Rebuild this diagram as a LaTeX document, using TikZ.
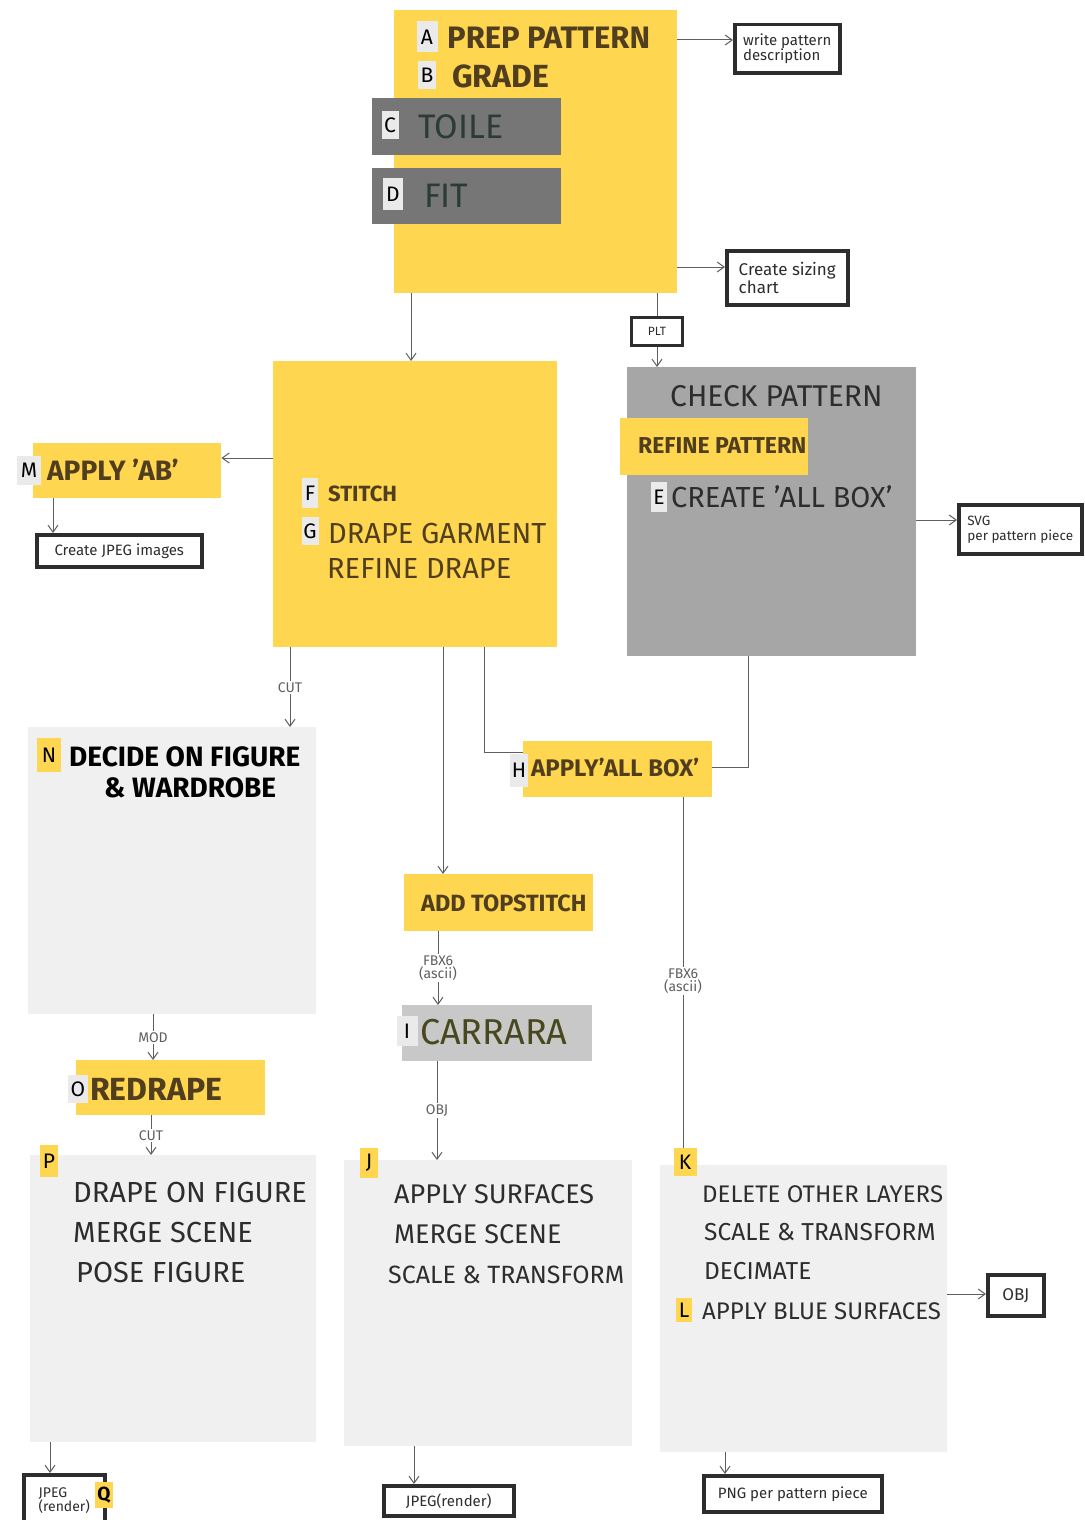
\documentclass[tikz,border=0pt]{standalone}
\usepackage{fontspec}
\setmainfont{Fira Sans}
\usetikzlibrary{arrows.meta}
\definecolor{noteyellow}{RGB}{255,214,79}
\definecolor{bargray}{RGB}{118,118,118}
\definecolor{checkgray}{RGB}{166,166,166}
\definecolor{softgray}{RGB}{200,200,200}
\definecolor{palegray}{RGB}{240,240,240}
\definecolor{taggray}{RGB}{234,234,234}
\definecolor{inkbrown}{RGB}{80,62,30}
\definecolor{inkolive}{RGB}{44,60,52}
\definecolor{inkcarrara}{RGB}{72,72,30}
\definecolor{inkdark}{RGB}{45,45,45}
\definecolor{linegray}{RGB}{95,95,95}
\begin{document}
\begin{tikzpicture}[yscale=-1
,panel/.style={anchor=north west,inner sep=0pt}
,outbox/.style={draw=inkdark,line width=3.5pt,anchor=north west,inner sep=4pt,align=left,text=inkdark,font=\fontsize{15}{15}\selectfont}
,tag/.style={inner sep=0pt,minimum width=18pt,minimum height=28pt,text=black,font=\fontsize{21}{21}\selectfont}
,head/.style={anchor=west,inner sep=0pt,text=inkbrown,font=\fontsize{#1}{#1}\selectfont\bfseries}
,body/.style={anchor=west,inner sep=0pt,text=inkdark,font=\fontsize{#1}{#1}\selectfont}
,conn/.style={draw=linegray,line width=1pt}
,arr/.style={conn,-{Straight Barb[length=7pt,width=10pt]}}
,lbl/.style={fill=white,inner sep=1.5pt,align=center,text=linegray,font=\fontsize{14}{13}\selectfont}
]
\fill[white] (0pt,0pt) rectangle (1084pt,1520pt);
\useasboundingbox (0pt,0pt) rectangle (1084pt,1520pt);
% boxes
\node[panel,fill=noteyellow,minimum width=283pt,minimum height=283pt] (prep) at (394pt,10pt) {};
\node[panel,fill=bargray,minimum width=189pt,minimum height=57pt] (toile) at (372pt,98pt) {};
\node[panel,fill=bargray,minimum width=189pt,minimum height=56pt] (fit) at (372pt,168pt) {};
\node[outbox,minimum width=105pt,minimum height=48pt,inner sep=3pt] (descr) at (733pt,23pt) {write pattern\\description};
\node[outbox,minimum width=121pt,minimum height=54pt,font=\fontsize{17}{18}\selectfont] (sizing) at (725pt,249pt) {Create sizing\\chart};
\node[outbox,line width=3pt,minimum width=51pt,minimum height=28pt,font=\fontsize{12}{12}\selectfont] (plt) at (630pt,316pt) {PLT};
\node[panel,fill=noteyellow,minimum width=284pt,minimum height=286pt] (stitch) at (273pt,361pt) {};
\node[panel,fill=checkgray,minimum width=289pt,minimum height=289pt] (check) at (627pt,367pt) {};
\node[panel,fill=noteyellow,minimum width=188pt,minimum height=57pt] (refinept) at (620pt,418pt) {};
\node[outbox,minimum width=123pt,minimum height=49pt,inner sep=3pt,font=\fontsize{13.5}{15}\selectfont] (svg) at (957pt,503pt) {SVG\\per pattern piece};
\node[panel,fill=noteyellow,minimum width=188pt,minimum height=55pt] (applyab) at (33pt,443pt) {};
\node[outbox,minimum width=165pt,minimum height=32pt] (jpegimg) at (35pt,533pt) {Create JPEG images};
\node[panel,fill=palegray,minimum width=288pt,minimum height=287pt] (decide) at (28pt,727pt) {};
\node[panel,fill=noteyellow,minimum width=189pt,minimum height=55pt] (redrape) at (76pt,1060pt) {};
\node[panel,fill=palegray,minimum width=286pt,minimum height=287pt] (drapefig) at (30pt,1155pt) {};
\node[outbox,minimum width=81pt,minimum height=52pt,inner sep=2pt,font=\fontsize{14}{14}\selectfont] (jpegq) at (22pt,1473pt) {JPEG\\(render)};
\node[panel,fill=noteyellow,minimum width=189pt,minimum height=57pt] (topstitch) at (404pt,874pt) {};
\node[panel,fill=softgray,minimum width=190pt,minimum height=56pt] (carrara) at (402pt,1005pt) {};
\node[panel,fill=palegray,minimum width=288pt,minimum height=286pt] (surfaces) at (344pt,1160pt) {};
\node[outbox,minimum width=130pt,minimum height=30pt,inner sep=2pt] (jpegrender) at (382pt,1484pt) {JPEG(render)};
\node[panel,fill=noteyellow,minimum width=189pt,minimum height=56pt] (allbox) at (523pt,741pt) {};
\node[panel,fill=palegray,minimum width=287pt,minimum height=287pt] (layers) at (660pt,1165pt) {};
\node[outbox,minimum width=56pt,minimum height=41pt,font=\fontsize{17}{17}\selectfont] (objout) at (986pt,1273pt) {OBJ};
\node[outbox,minimum width=178pt,minimum height=36pt] (pngout) at (702pt,1474pt) {PNG per pattern piece};
% connectors
\draw[arr] (prep.east |- 0,40pt) -- (descr.west |- 0,40pt);
\draw[arr] (prep.east |- 0,267pt) -- (sizing.west |- 0,267pt);
\draw[conn] (prep.south -| plt.north) -- (plt.north);
\draw[arr] (plt.south) -- (check.north -| plt.south);
\draw[arr] (prep.south -| 411pt,0) -- (stitch.north -| 411pt,0);
\draw[arr] (check.east |- 0,520pt) -- (svg.west |- 0,520pt);
\draw[arr] (stitch.west |- 0,458pt) -- (applyab.east |- 0,458pt);
\draw[arr] (applyab.south -| 53pt,0) -- (jpegimg.north -| 53pt,0);
\draw[arr] (stitch.south -| 290pt,0) -- node[lbl] (cut1) {CUT} (decide.north -| 290pt,0);
\draw[arr] (decide.south -| 153pt,0) -- node[lbl] (mod) {MOD} (redrape.north -| 153pt,0);
\draw[arr] (redrape.south -| 151pt,0) -- node[lbl] (cut2) {CUT} (drapefig.north -| 151pt,0);
\draw[arr] (drapefig.south -| 50pt,0) -- (jpegq.north -| 50pt,0);
\draw[arr] (stitch.south -| 443pt,0) -- (topstitch.north -| 443pt,0);
\draw[arr] (topstitch.south -| 438pt,0) -- node[lbl] (fbx1) {FBX6\\(ascii)} (carrara.north -| 438pt,0);
\draw[arr] (carrara.south -| 437pt,0) -- node[lbl] (obj1) {OBJ} (surfaces.north -| 437pt,0);
\draw[arr] (surfaces.south -| 414pt,0) -- (jpegrender.north -| 414pt,0);
\draw[conn] (stitch.south -| 484pt,0) |- (allbox.west |- 0,752pt);
\draw[conn] (check.south -| 748pt,0) |- (allbox.east |- 0,767pt);
\draw[arr] (allbox.south -| 683pt,0) -- node[lbl] (fbx2) {FBX6\\(ascii)} (layers.north -| 683pt,0);
\draw[arr] (layers.east |- 0,1294pt) -- (objout.west |- 0,1294pt);
\draw[arr] (layers.south -| 725pt,0) -- (pngout.north -| 725pt,0);
% tags
\node[tag,fill=taggray,minimum width=21pt,minimum height=31pt] (tagA) at (427pt,37pt) {A};
\node[tag,fill=taggray] (tagB) at (427pt,75pt) {B};
\node[tag,fill=taggray,minimum width=17pt] (tagC) at (390pt,125pt) {C};
\node[tag,fill=taggray,minimum width=20pt,minimum height=32pt] (tagD) at (393pt,194pt) {D};
\node[tag,fill=taggray,minimum width=16pt,minimum height=30pt] (tagE) at (659pt,497pt) {E};
\node[tag,fill=taggray,minimum width=16pt,minimum height=30pt] (tagF) at (310pt,493pt) {F};
\node[tag,fill=taggray,minimum width=17pt] (tagG) at (310pt,531pt) {G};
\node[tag,fill=taggray,minimum width=18pt,minimum height=33pt] (tagH) at (519pt,770pt) {H};
\node[tag,fill=taggray,minimum width=21pt,minimum height=30pt] (tagI) at (407pt,1031pt) {I};
\node[tag,fill=noteyellow,minimum width=18pt,minimum height=30pt] (tagJ) at (369pt,1163pt) {J};
\node[tag,fill=noteyellow,minimum width=23pt] (tagK) at (685pt,1162pt) {K};
\node[tag,fill=noteyellow,minimum width=16pt,minimum height=24pt] (tagL) at (684pt,1310pt) {L};
\node[tag,fill=taggray,minimum width=24pt,minimum height=29pt] (tagM) at (29pt,470pt) {M};
\node[tag,fill=noteyellow,minimum width=24pt,minimum height=34pt] (tagN) at (49pt,755pt) {N};
\node[tag,fill=taggray,minimum width=20pt] (tagO) at (78pt,1089pt) {O};
\node[tag,fill=noteyellow,minimum width=18pt,minimum height=32pt] (tagP) at (49pt,1161pt) {P};
\node[tag,fill=noteyellow,minimum width=18pt,minimum height=26pt,font=\fontsize{19}{19}\selectfont\bfseries] (tagQ) at (104pt,1495pt) {Q};
% texts
\node[head=31] (prepT) at (447pt,38pt) {PREP PATTERN};
\node[head=32] (gradeT) at (452pt,76pt) {GRADE};
\node[body=34,text=inkolive] (toileT) at (418pt,127pt) {TOILE};
\node[body=34,text=inkolive] (fitT) at (424pt,196pt) {FIT};
\node[body=30] (checkT) at (670pt,396pt) {CHECK PATTERN};
\node[head=23] (refineT) at (638pt,446pt) {REFINE PATTERN};
\node[body=29] (createT) at (671pt,497pt) {CREATE 'ALL BOX'};
\node[head=22] (stitchT) at (328pt,494pt) {STITCH};
\node[body=29,text=inkbrown] (garmentT) at (328pt,534pt) {DRAPE GARMENT};
\node[body=29,text=inkbrown] (refdrapeT) at (327pt,569pt) {REFINE DRAPE};
\node[head=28] (applyabT) at (47pt,470pt) {APPLY 'AB'};
\node[head=28,text=black] (decideT) at (69pt,757pt) {DECIDE ON FIGURE};
\node[head=28,text=black] (wardrobeT) at (104pt,788pt) {\& WARDROBE};
\node[head=32] (redrapeT) at (90pt,1089pt) {REDRAPE};
\node[head=23.5] (topstitchT) at (421pt,903pt) {ADD TOPSTITCH};
\node[body=36,text=inkcarrara] (carraraT) at (420pt,1032pt) {CARRARA};
\node[head=24] (allboxT) at (531pt,768pt) {APPLY'ALL BOX'};
\node[body=29] (drapeonT) at (73pt,1192pt) {DRAPE ON FIGURE};
\node[body=29] (mergeaT) at (73pt,1232pt) {MERGE SCENE};
\node[body=29] (poseT) at (76pt,1272pt) {POSE FIGURE};
\node[body=27] (surfT) at (394pt,1194pt) {APPLY SURFACES};
\node[body=27] (mergebT) at (394pt,1234pt) {MERGE SCENE};
\node[body=25] (scaleaT) at (388pt,1275pt) {SCALE \& TRANSFORM};
\node[body=24] (deleteT) at (702pt,1194pt) {DELETE OTHER LAYERS};
\node[body=24.5] (scalebT) at (704pt,1232pt) {SCALE \& TRANSFORM};
\node[body=24.5] (decimateT) at (704pt,1271pt) {DECIMATE};
\node[body=24] (blueT) at (702pt,1311pt) {APPLY BLUE SURFACES};
\end{tikzpicture}
\end{document}
